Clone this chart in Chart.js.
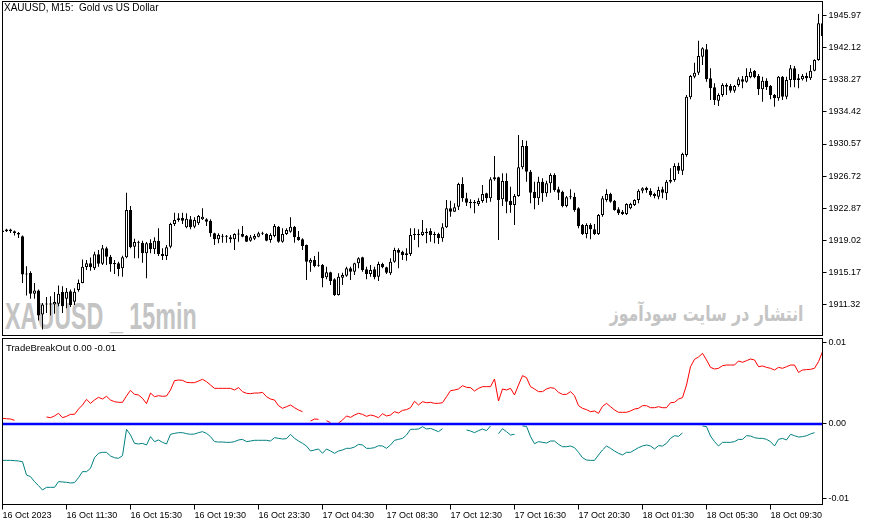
<!DOCTYPE html>
<html lang="en">
<head>
<meta charset="utf-8">
<title>XAUUSD M15</title>
<script src="https://cdn.jsdelivr.net/npm/chart.js@4.4.1/dist/chart.umd.min.js"></script>
<style>
    body { margin: 0; background: #fff; }
    #wrap { position: relative; width: 876px; height: 525px; overflow: hidden; background: #fff; font-family: "Liberation Sans", Arial, sans-serif; }
    canvas { position: absolute; left: 0; }
    #mainChart { top: 0; }
    #indChart { top: 338px; }
    .txt { position: absolute; white-space: pre; color: #000; }
    #title { left: 4px; top: 2px; font-size: 10px; line-height: 12px; }
    #indName { left: 6px; top: 342px; font-size: 9.5px; line-height: 12px; }
    #markEn { left: 5px; top: 298px; font-size: 37px; line-height: 37px; font-weight: bold; color: #c4c4c4; transform: scaleX(0.63); transform-origin: 0 0; }
    #markFa { right: 72px; top: 304px; font-family: "DejaVu Sans", sans-serif; font-size: 21px; line-height: 21px; font-weight: bold; color: #c4c4c4; direction: rtl; transform: scaleX(0.75); transform-origin: 100% 0; }
</style>
</head>
<body>
<div id="wrap">
    <div class="txt" id="markEn">XAUUSD _ 15min</div>
    <div class="txt" id="markFa">انتشار در سایت سودآموز</div>
    <canvas id="mainChart" width="876" height="337"></canvas>
    <canvas id="indChart" width="876" height="187"></canvas>
    <div class="txt" id="title">XAUUSD, M15:  Gold vs US Dollar</div>
    <div class="txt" id="indName">TradeBreakOut 0.00 -0.01</div>
</div>
<script>
// M15 candles (one entry per bar)
const openPrices = [
    1920.2,1920.1,1920.3,1920.1,1919.9,1919.5,1914.9,1915.1,1912.6,1913.0,
    1910.1,1911.3,1911.4,1911.3,1911.4,1912.8,1912.0,1912.9,1911.65,1913.05,
    1913.9,1915.8,1916.25,1915.65,1917.35,1916.2,1918.05,1917.05,1916.3,1916.25,
    1915.65,1916.97,1922.65,1918.25,1918.77,1918.73,1917.45,1918.73,1917.93,1918.97,
    1917.37,1917.13,1918.25,1920.97,1921.45,1921.69,1920.57,1921.53,1920.65,1921.05,
    1921.53,1921.53,1921.37,1919.85,1919.13,1919.45,1919.5,1919.37,1919.13,1919.77,
    1919.77,1919.55,1918.97,1919.21,1919.45,1919.85,1919.77,1919.05,1919.53,1920.65,
    1918.85,1919.77,1920.05,1920.65,1919.45,1919.13,1918.45,1916.33,1916.65,1915.95,
    1916.05,1914.57,1915.17,1914.33,1912.45,1914.53,1914.77,1915.65,1915.25,1916.25,
    1916.97,1915.53,1914.97,1915.53,1914.65,1916.17,1915.77,1915.05,1916.45,1917.85,
    1917.65,1917.45,1917.37,1919.65,1919.77,1919.65,1920.05,1920.13,1919.65,1919.77,
    1919.25,1920.57,1922.85,1922.45,1923.05,1925.77,1924.05,1923.65,1923.45,1923.37,
    1923.73,1924.65,1924.05,1926.33,1926.57,1923.93,1926.13,1923.77,1923.25,1924.33,
    1927.77,1930.33,1927.25,1924.85,1924.05,1926.05,1924.65,1925.85,1926.85,1925.13,
    1924.85,1923.13,1924.25,1924.25,1922.85,1920.85,1919.77,1920.85,1920.33,1919.77,
    1922.05,1923.85,1924.57,1923.77,1922.73,1922.45,1922.17,1922.85,1923.25,1923.85,
    1924.97,1925.33,1924.97,1924.57,1924.25,1925.13,1924.65,1926.05,1926.25,1927.93,
    1927.37,1929.25,1936.17,1938.65,1939.13,1941.05,1941.93,1938.45,1937.37,1935.77,
    1936.45,1937.65,1937.53,1936.97,1937.65,1938.33,1938.05,1938.57,1939.33,1938.73,
    1937.13,1938.17,1937.53,1936.45,1936.05,1938.65,1936.25,1938.25,1939.65,1938.45,
    1938.33,1938.73,1938.45,1939.37,1940.65,1945.05
];
const highPrices = [
    1920.5,1920.4,1920.4,1920.2,1920.0,1919.6,1915.9,1915.3,1913.9,1913.1,
    1911.5,1912.2,1912.3,1912.8,1913.6,1913.5,1913.3,1913.1,1913.25,1914.3,
    1916.7,1916.65,1916.95,1917.65,1917.85,1918.45,1918.25,1917.25,1916.65,1916.45,
    1917.15,1924.73,1923.13,1919.21,1918.97,1918.97,1918.81,1919.13,1919.37,1920.45,
    1918.05,1918.45,1921.13,1922.33,1922.25,1922.33,1922.25,1921.93,1921.77,1922.05,
    1922.85,1921.65,1921.53,1919.93,1919.85,1919.77,1919.65,1919.65,1919.85,1920.33,
    1920.73,1919.65,1919.65,1919.77,1920.05,1920.05,1919.85,1919.85,1920.97,1920.73,
    1920.45,1920.45,1921.77,1920.73,1920.13,1919.25,1918.5,1916.85,1917.13,1917.65,
    1916.17,1915.85,1915.25,1914.45,1915.05,1915.13,1915.85,1915.85,1916.33,1916.97,
    1917.05,1915.85,1916.05,1915.85,1916.45,1916.33,1915.85,1916.85,1918.13,1918.05,
    1917.77,1918.05,1920.45,1920.45,1920.33,1921.45,1920.45,1920.45,1920.05,1919.93,
    1921.05,1923.85,1923.77,1923.45,1925.93,1926.57,1924.73,1923.93,1923.85,1924.05,
    1925.65,1924.73,1926.57,1929.13,1926.65,1927.05,1927.05,1925.45,1924.57,1931.65,
    1931.05,1930.97,1927.45,1926.05,1926.65,1926.45,1926.17,1927.05,1927.05,1925.45,
    1924.97,1924.33,1925.13,1924.73,1922.97,1920.97,1921.05,1921.05,1920.97,1922.17,
    1924.33,1925.13,1924.73,1923.85,1922.97,1922.65,1923.45,1923.53,1923.93,1925.13,
    1925.37,1925.45,1925.25,1924.73,1925.45,1925.45,1926.25,1927.65,1928.25,1928.33,
    1929.53,1936.45,1938.85,1940.33,1942.97,1942.17,1942.57,1939.65,1937.85,1936.65,
    1937.85,1937.85,1937.77,1937.65,1938.57,1938.73,1939.65,1939.65,1939.45,1938.97,
    1938.65,1938.45,1937.65,1936.57,1938.73,1938.73,1938.65,1940.05,1939.93,1938.97,
    1938.97,1939.13,1940.05,1940.73,1946.17,1946.05
];
const lowPrices = [
    1919.4,1920.0,1919.9,1919.6,1919.3,1913.9,1912.4,1912.0,1912.0,1909.4,
    1908.3,1910.3,1910.0,1910.2,1911.1,1910.3,1910.85,1911.0,1911.25,1912.85,
    1913.85,1915.45,1915.35,1915.45,1915.85,1916.05,1916.05,1915.25,1914.97,1914.7,
    1914.65,1916.85,1918.05,1916.85,1916.85,1916.33,1914.45,1917.45,1917.37,1917.13,
    1916.65,1916.65,1918.05,1920.73,1921.25,1920.97,1920.45,1920.33,1920.45,1920.85,
    1921.45,1920.73,1919.45,1918.45,1918.65,1918.73,1918.73,1918.73,1917.85,1918.85,
    1919.37,1918.8,1918.85,1919.05,1919.37,1919.65,1918.9,1918.73,1919.37,1918.73,
    1918.73,1919.65,1919.93,1918.73,1918.97,1917.85,1914.25,1915.25,1915.77,1915.85,
    1913.37,1914.33,1913.65,1912.33,1912.4,1913.65,1914.65,1914.25,1914.85,1915.65,
    1915.25,1914.33,1914.65,1914.33,1914.13,1915.65,1914.97,1914.85,1916.33,1915.65,
    1916.65,1916.57,1917.13,1919.05,1918.17,1919.53,1918.65,1918.85,1918.65,1918.57,
    1918.85,1920.5,1921.85,1922.4,1922.65,1923.65,1923.13,1922.85,1922.25,1923.13,
    1923.53,1923.53,1923.65,1926.17,1919.05,1923.13,1922.25,1922.33,1920.85,1924.25,
    1927.53,1926.05,1923.45,1922.73,1923.25,1923.65,1924.25,1924.73,1924.85,1923.85,
    1922.97,1922.97,1923.93,1922.45,1920.45,1919.65,1919.25,1919.13,1919.65,1919.65,
    1921.85,1923.65,1923.53,1922.57,1922.05,1922.05,1922.05,1922.73,1923.13,1923.45,
    1924.65,1924.73,1924.25,1924.05,1923.93,1924.05,1923.85,1925.85,1926.05,1926.97,
    1926.85,1929.05,1935.93,1938.45,1938.85,1940.05,1938.05,1935.85,1935.25,1935.13,
    1936.25,1936.45,1936.73,1936.73,1937.45,1937.25,1937.93,1938.45,1938.45,1936.45,
    1935.65,1937.05,1935.93,1935.05,1935.77,1935.85,1935.93,1937.37,1937.37,1937.25,
    1938.2,1938.05,1938.25,1939.3,1940.57,1943.45
];
const closePrices = [
    1920.0,1920.3,1920.1,1919.9,1919.7,1914.9,1915.0,1912.6,1913.0,1910.0,
    1911.3,1911.4,1911.3,1911.6,1912.6,1911.1,1912.85,1911.25,1912.85,1913.9,
    1915.85,1916.25,1915.8,1917.35,1916.2,1918.05,1917.05,1916.15,1916.15,1915.57,
    1916.97,1922.65,1918.17,1918.81,1918.73,1917.45,1918.65,1917.93,1918.97,1917.37,
    1917.13,1918.17,1920.97,1921.45,1921.65,1921.37,1921.61,1920.57,1921.45,1921.93,
    1921.85,1921.25,1919.85,1919.13,1919.65,1919.5,1919.45,1919.13,1919.77,1919.7,
    1919.45,1918.85,1919.37,1919.53,1919.85,1919.8,1918.97,1919.65,1920.73,1918.85,
    1919.77,1920.25,1920.65,1919.37,1919.05,1918.33,1916.45,1916.65,1915.93,1916.05,
    1914.45,1915.17,1914.13,1912.45,1914.65,1914.85,1915.65,1915.25,1916.25,1916.85,
    1915.45,1914.97,1915.45,1914.57,1916.17,1915.77,1915.13,1916.45,1917.85,1917.53,
    1917.25,1917.25,1919.65,1919.77,1919.65,1920.05,1919.85,1919.65,1919.75,1919.25,
    1920.57,1922.85,1922.45,1922.97,1925.77,1924.05,1923.53,1923.45,1923.6,1923.73,
    1924.57,1924.05,1926.33,1926.57,1923.85,1926.13,1923.65,1923.25,1924.33,1927.77,
    1930.33,1927.25,1924.73,1924.05,1926.05,1924.65,1925.85,1926.85,1925.05,1924.73,
    1923.13,1924.17,1924.17,1922.65,1920.73,1919.77,1920.85,1920.33,1919.77,1922.05,
    1924.05,1924.57,1923.65,1922.65,1922.25,1922.17,1923.37,1923.37,1923.85,1924.97,
    1925.25,1925.05,1924.45,1924.33,1925.05,1924.73,1926.05,1926.25,1927.93,1927.37,
    1929.37,1936.25,1938.73,1939.13,1941.13,1942.05,1938.33,1937.25,1935.85,1936.45,
    1937.65,1937.45,1936.97,1937.53,1938.33,1938.05,1938.73,1939.25,1938.57,1937.13,
    1938.17,1937.37,1936.45,1936.05,1938.65,1936.25,1938.25,1939.65,1938.25,1938.25,
    1938.73,1938.45,1939.37,1940.65,1945.05,1943.53
];

// TradeBreakOut buffers (null = no value drawn)
const upperLine = [
    0.00073,0.00068,0.00064,0.00047,null,null,null,null,null,null,
    null,0.0009,0.00081,0.00103,0.00137,0.00081,0.00098,0.00124,0.00124,0.00192,
    0.00244,0.00316,0.00265,0.00308,0.00342,0.0032,0.00355,0.00308,0.00286,0.00278,
    0.00278,0.00359,0.00432,0.0038,0.00372,0.00329,0.00261,0.00397,0.0035,0.00363,
    0.00355,0.00359,0.00436,0.00556,0.00564,0.0056,0.00534,0.0053,0.0053,0.00551,
    0.00573,0.00543,0.005,0.00457,0.00457,0.00457,0.00457,0.00457,0.00436,0.00466,
    0.00415,0.00393,0.00389,0.00397,0.00397,0.00406,0.0035,0.0032,0.00308,0.00235,
    0.00201,0.00222,0.00244,0.00209,0.0018,0.00158,null,0.00038,0.00064,0.0006,
    null,0.00043,0.00017,null,0.00013,0.00051,0.00103,0.00085,0.00115,0.00137,
    0.00124,0.00098,0.00115,0.00103,0.00081,0.00132,0.00103,0.00115,0.00158,0.00141,
    0.00175,0.00184,0.00209,0.00291,0.00244,0.00286,0.00273,0.00278,0.00265,0.00265,
    0.00273,0.0035,0.00427,0.00436,0.00449,0.00491,0.0047,0.00466,0.00423,0.00457,
    0.00479,0.00479,0.00479,0.00577,0.00295,0.00449,0.00436,0.00457,0.00372,0.005,
    0.0062,0.00594,0.00479,0.00449,0.00415,0.00415,0.00449,0.00466,0.00457,0.00406,
    0.0038,0.0038,0.00415,0.00363,0.00235,0.00201,0.00184,0.00158,0.00167,0.00137,
    0.00226,0.00265,0.00222,0.0018,0.0015,0.0015,0.0015,0.00167,0.00192,0.00201,
    0.00235,0.00235,0.00209,0.00209,0.00222,0.00209,0.00209,0.00273,0.00278,0.0032,
    0.00338,0.005,0.00735,0.00829,0.00859,0.00906,0.00821,0.00726,0.00705,0.00714,
    0.00748,0.00756,0.00756,0.00756,0.00808,0.00791,0.00812,0.00833,0.00821,0.00735,
    0.00744,0.00726,0.00714,0.00692,0.00726,0.00714,0.00735,0.00756,0.00756,0.00662,
    0.00692,0.00697,0.00701,0.00714,0.00799,0.00927
];
const lowerLine = [
    -0.00466,-0.00466,-0.00466,-0.0047,-0.00474,-0.00483,-0.00654,-0.00675,-0.00739,-0.0079,
    -0.00846,-0.00812,-0.00812,-0.00812,-0.00739,-0.00743,-0.00748,-0.00756,-0.00752,-0.00688,
    -0.00611,-0.00611,-0.00568,-0.00432,-0.00376,-0.00363,-0.00363,-0.0041,-0.00432,-0.0044,
    -0.00406,-0.00068,-0.00141,-0.00248,-0.00256,-0.00248,-0.00269,-0.00162,-0.00226,-0.00205,
    -0.00235,-0.00256,-0.00132,-0.0012,-0.00111,-0.00111,-0.00124,-0.00132,-0.00128,-0.00111,
    -0.00098,-0.0012,-0.00162,-0.00226,-0.00231,-0.00231,-0.00235,-0.00235,-0.00226,-0.00205,
    -0.00197,-0.00226,-0.00218,-0.00209,-0.00209,-0.00209,-0.00209,-0.00218,-0.00175,-0.00184,
    -0.00192,-0.00188,-0.00132,-0.00184,-0.00218,-0.00248,-0.00282,-0.00346,-0.00333,-0.0032,
    -0.00376,-0.0032,-0.00346,-0.00376,-0.00346,-0.00333,-0.00312,-0.00312,-0.00295,-0.00261,
    -0.00269,-0.00312,-0.00312,-0.00303,-0.00278,-0.00282,-0.00312,-0.00269,-0.00209,-0.00197,
    -0.00184,-0.00141,-0.00068,-0.00068,-0.00064,-0.00034,-0.00064,-0.00056,-0.00077,-0.00098,
    -0.0006,null,null,null,null,null,-0.00077,-0.0009,-0.00111,-0.00085,
    -0.00064,-0.00085,-0.00026,null,-0.00124,-0.0006,-0.00098,-0.00141,-0.00132,null,
    -0.00026,-0.0003,-0.00162,-0.00252,-0.00226,-0.00235,-0.00244,-0.00218,-0.00218,-0.00261,
    -0.00291,-0.00291,-0.00282,-0.00303,-0.00363,-0.00432,-0.00462,-0.00466,-0.00466,-0.00397,
    -0.00333,-0.00282,-0.00312,-0.00346,-0.00376,-0.00397,-0.00363,-0.00363,-0.00333,-0.00303,
    -0.00282,-0.00269,-0.00282,-0.0032,-0.00278,-0.00282,-0.00248,-0.00184,-0.0015,-0.00158,
    -0.00115,null,null,null,null,-0.00026,-0.00034,-0.00154,-0.00226,-0.00282,
    -0.00235,-0.00235,-0.00235,-0.00226,-0.00197,-0.00197,-0.0015,-0.00154,-0.00175,-0.00184,
    -0.00184,-0.00197,-0.00226,-0.00282,-0.00197,-0.00184,-0.00205,-0.00132,-0.0015,-0.00167,
    -0.00162,-0.0015,-0.00128,-0.00111,null,null
];
const zeroLevel = 0;

// axis labels
const priceTicks = [1945.97, 1942.12, 1938.27, 1934.42, 1930.57, 1926.72, 1922.87, 1919.02, 1915.17, 1911.32];
const indTicks = [0.0104, 0, -0.0095];
const tickLabels = ['16 Oct 2023', '16 Oct 11:30', '16 Oct 15:30', '16 Oct 19:30', '16 Oct 23:30',
    '17 Oct 04:30', '17 Oct 08:30', '17 Oct 12:30', '17 Oct 16:30', '17 Oct 20:30',
    '18 Oct 01:30', '18 Oct 05:30', '18 Oct 09:30'];
const barsPerLabel = 16;

// visible ranges of the two panes
const priceMin = 1907.59, priceMax = 1947.67;
const indMin = -0.010321, indMax = 0.010962;

Chart.defaults.font.family = '"Liberation Sans", Arial, sans-serif';
Chart.defaults.color = '#000';
Chart.defaults.animation = false;

const bars = openPrices.map((o, i) => i);
const axisFont = { size: 9 };

// black box round each pane, like the terminal draws it
const frame = {
    id: 'frame',
    afterDatasetsDraw(chart) {
        const { ctx, chartArea: a } = chart;
        ctx.save();
        ctx.strokeStyle = '#000';
        ctx.lineWidth = 1;
        ctx.strokeRect(a.left, a.top, a.right - a.left, a.bottom - a.top);
        ctx.restore();
    }
};

function rightAxis(min, max, values) {
    return {
        position: 'right', min: min, max: max,
        afterFit: s => { s.width = 53.5; s.paddingTop = 0; s.paddingBottom = 0; },
        afterBuildTicks: s => { s.ticks = values.map(v => ({ value: v })); },
        ticks: { autoSkip: false, padding: 2, color: '#000', font: axisFont, callback: v => Number(v).toFixed(2) },
        grid: { drawOnChartArea: false, drawTicks: true, tickLength: 4, color: '#000' },
        border: { display: true, color: '#000', width: 1 }
    };
}

new Chart(document.getElementById('mainChart'), {
    type: 'bar',
    data: {
        labels: bars,
        datasets: [{
            label: 'body',
            data: bars.map(i => [openPrices[i], closePrices[i]]),
            backgroundColor: bars.map(i => closePrices[i] >= openPrices[i] ? '#ffffff' : '#000000'),
            borderColor: '#000000', borderWidth: 1, borderSkipped: false,
            barThickness: 3, minBarLength: 1, grouped: false, inflateAmount: 0, order: 0
        }, {
            label: 'wick',
            data: bars.map(i => [lowPrices[i], highPrices[i]]),
            backgroundColor: '#000000', borderWidth: 0,
            barThickness: 1, grouped: false, inflateAmount: 0, order: 1
        }]
    },
    options: {
        responsive: false,
        layout: { padding: { left: 2.5, top: 1.5, right: 0, bottom: 1.5 } },
        plugins: { legend: { display: false }, tooltip: { enabled: false } },
        scales: {
            x: { display: false, offset: false, grid: { offset: false } },
            y: rightAxis(priceMin, priceMax, priceTicks)
        }
    },
    plugins: [frame]
});

new Chart(document.getElementById('indChart'), {
    type: 'line',
    data: {
        labels: bars,
        datasets: [
            { label: 'zero', data: bars.map(() => zeroLevel), borderColor: '#0000ff', borderWidth: 2.5, order: 0 },
            { label: 'up', data: upperLine, borderColor: '#ff0000', borderWidth: 1, order: 1 },
            { label: 'down', data: lowerLine, borderColor: '#008080', borderWidth: 1, order: 1 }
        ]
    },
    options: {
        responsive: false,
        spanGaps: false,
        elements: { point: { radius: 0 }, line: { tension: 0 } },
        layout: { padding: { left: 2.5, top: 0.5, right: 0, bottom: 0 } },
        plugins: { legend: { display: false }, tooltip: { enabled: false } },
        scales: {
            x: {
                offset: false,
                afterFit: s => { s.height = 20.5; s.paddingLeft = 0; s.paddingRight = 0; },
                afterBuildTicks: s => { s.ticks = s.ticks.filter(t => t.value % barsPerLabel === 0); },
                ticks: {
                    autoSkip: false, maxRotation: 0, minRotation: 0, align: 'start', padding: 1,
                    color: '#000', font: axisFont,
                    callback: v => tickLabels[v / barsPerLabel]
                },
                grid: { drawOnChartArea: false, drawTicks: true, tickLength: 5, color: '#000', offset: false },
                border: { display: true, color: '#000', width: 1 }
            },
            y: rightAxis(indMin, indMax, indTicks)
        }
    },
    plugins: [frame]
});
</script>
</body>
</html>
